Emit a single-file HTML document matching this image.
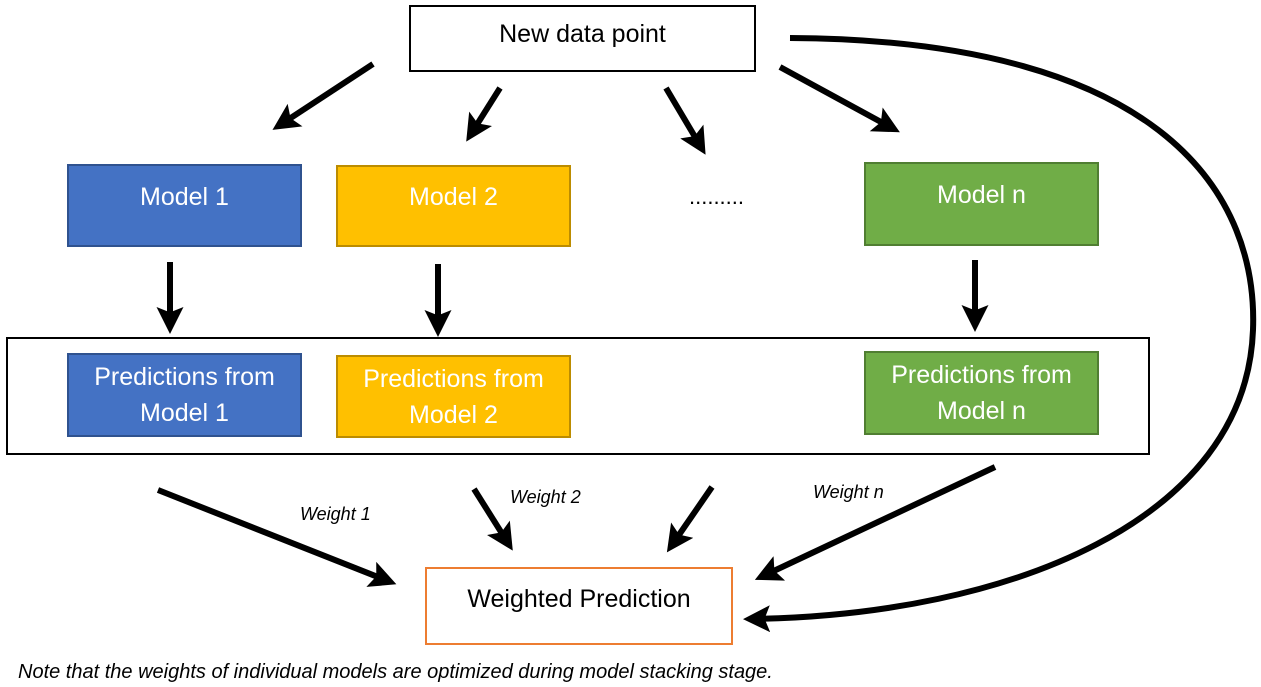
<!DOCTYPE html>
<html><head><meta charset="utf-8"><style>
body{margin:0;width:1261px;height:687px;background:#fff;overflow:hidden;position:relative;font-family:"Liberation Sans",sans-serif}
.b{position:absolute;box-sizing:border-box;display:flex;align-items:center;justify-content:center;text-align:center;font-size:25px;line-height:36px;white-space:nowrap}
.w{color:#fff}
.blue{background:#4472C4;border:2px solid #2F528F}
.yel{background:#FFC000;border:2px solid #BC8C00}
.grn{background:#70AD47;border:2px solid #507E32}
.t{position:absolute;font-style:italic;font-size:18px;white-space:nowrap}
svg{position:absolute;left:0;top:0}
</style></head><body>
<div class="b" style="left:409px;top:5px;width:347px;height:67px;border:2px solid #000;padding-bottom:10px">New data point</div>
<div class="b w blue" style="left:67px;top:164px;width:235px;height:83px;padding-bottom:18px">Model 1</div>
<div class="b w yel" style="left:336px;top:165px;width:235px;height:82px;padding-bottom:18px">Model 2</div>
<div class="b w grn" style="left:864px;top:162px;width:235px;height:84px;padding-bottom:18px">Model n</div>
<div class="t" style="left:689px;top:184px;font-style:normal;font-size:22px">.........</div>
<div class="b" style="left:6px;top:337px;width:1144px;height:118px;border:2px solid #000"></div>
<div class="b w blue" style="left:67px;top:353px;width:235px;height:84px">Predictions from<br>Model 1</div>
<div class="b w yel" style="left:336px;top:355px;width:235px;height:83px">Predictions from<br>Model 2</div>
<div class="b w grn" style="left:864px;top:351px;width:235px;height:84px">Predictions from<br>Model n</div>
<div class="b" style="left:425px;top:567px;width:308px;height:78px;border:2px solid #ED7D31;padding-bottom:14px">Weighted Prediction</div>
<div class="t" style="left:300px;top:504px">Weight 1</div>
<div class="t" style="left:510px;top:487px">Weight 2</div>
<div class="t" style="left:813px;top:482px">Weight n</div>
<div class="t" style="left:18px;top:661px;font-size:20px">Note that the weights of individual models are optimized during model stacking stage.</div>
<svg width="1261" height="687">
<defs><marker id="a" markerWidth="4.5" markerHeight="4.5" refX="3" refY="2.25" orient="auto" markerUnits="strokeWidth"><path d="M0,0 L4.5,2.25 L0,4.5 L0.9,2.25 z" fill="#000"/></marker></defs>
<g stroke="#000" stroke-width="6" fill="none" marker-end="url(#a)">
<line x1="373" y1="64" x2="280" y2="125"/>
<line x1="500" y1="88" x2="471" y2="134"/>
<line x1="666" y1="88" x2="701" y2="147"/>
<line x1="780" y1="67" x2="892" y2="128"/>
<line x1="170" y1="262" x2="170" y2="325"/>
<line x1="438" y1="264" x2="438" y2="328"/>
<line x1="975" y1="260" x2="975" y2="323"/>
<line x1="158" y1="490" x2="388" y2="581"/>
<line x1="474" y1="489" x2="508" y2="543"/>
<line x1="712" y1="487" x2="672" y2="545"/>
<line x1="995" y1="467" x2="763" y2="576"/>
<path d="M790 38 C1170 40 1258 200 1253 330 C1246 520 1010 615 752 619"/>
</g></svg>
</body></html>
